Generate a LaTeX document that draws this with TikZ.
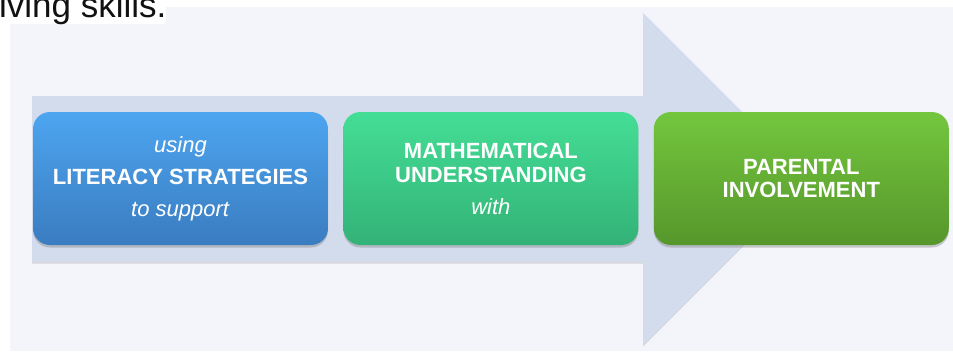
\documentclass[tikz,border=0pt]{standalone}
\usepackage{fontspec}
\setmainfont{Liberation Sans}
\usepackage{tikz}
\usetikzlibrary{positioning,shadows}
\definecolor{ink}      {HTML}{111111}
\definecolor{panel}    {HTML}{F4F5FA}
\definecolor{arrowfill}{HTML}{D3DCEC}
\definecolor{bluetop}  {HTML}{4DA5F0}
\definecolor{bluebot}  {HTML}{3A7CC0}
\definecolor{greentop} {HTML}{44DE96}
\definecolor{greenbot} {HTML}{33B277}
\definecolor{limetop}  {HTML}{74C63E}
\definecolor{limebot}  {HTML}{56972B}
\tikzset{
  % --- nodes
  pill/.style  = {rounded corners=17pt, minimum width=295pt, minimum height=133pt,
                  align=center, text=white, inner sep=0pt,
                  font=\fontsize{22}{32}\selectfont,
                  drop shadow={shadow xshift=0pt, shadow yshift=-2.5pt, opacity=0.4}},
  literacy/.style = {pill, top color=bluetop, bottom color=bluebot},
  maths/.style    = {pill, top color=greentop, bottom color=greenbot,
                     font=\fontsize{22}{24}\selectfont},
  parents/.style  = {pill, top color=limetop, bottom color=limebot,
                     font=\fontsize{22}{23}\selectfont},
  % --- background
  bigarrow/.style = {fill=arrowfill,
                     drop shadow={shadow xshift=0pt, shadow yshift=-1.5pt, opacity=0.25}},
}

\begin{document}
\begin{tikzpicture}[x=1pt,y=-1pt]
  \useasboundingbox (0,0) rectangle (953,354);
  \fill[white] (0,0) rectangle (953,354);
  \fill[panel] (10,7) rectangle (953,351);
  \node[anchor=base west, inner sep=0pt, text=ink, fill=white,
        font=\fontsize{35}{40}\selectfont] (tail) at (-1,17) {lving skills.};
  % the big arrow behind the boxes
  \path[bigarrow] (32,96) -- (643,96) -- (643,13) -- (809,179) -- (643,345)
                  -- (643,262) -- (32,262) -- cycle;
  \node[literacy] (lit) at (180.5,178.5)
    {\textit{using}\\\textbf{LITERACY STRATEGIES}\\\textit{to support}};
  \node[maths, right=15pt of lit] (math)
    {\textbf{MATHEMATICAL}\\\textbf{UNDERSTANDING}\\[8pt]\textit{with}};
  \node[parents, right=15pt of math] (par)
    {\textbf{PARENTAL}\\\textbf{INVOLVEMENT}};
\end{tikzpicture}
\end{document}
